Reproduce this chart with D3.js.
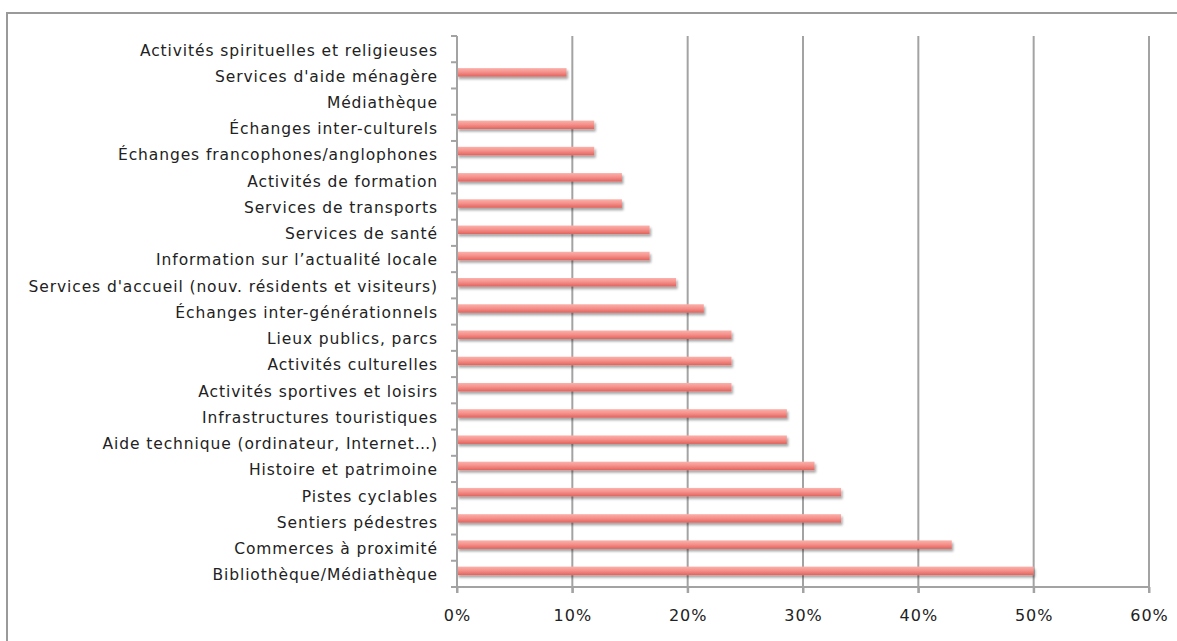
<!DOCTYPE html>
<html>
<head>
<meta charset="utf-8">
<script src="https://cdn.jsdelivr.net/npm/d3@7"></script>
<style>
html,body{margin:0;padding:0;background:#fff;}
svg text{font-family:"DejaVu Sans",Verdana,sans-serif;fill:#222;}
</style>
</head>
<body>
<svg id="chart" width="1177" height="641"></svg>
<script>
const categories = [
  "Activités spirituelles et religieuses",
  "Services d'aide ménagère",
  "Médiathèque",
  "Échanges inter-culturels",
  "Échanges francophones/anglophones",
  "Activités de formation",
  "Services de transports",
  "Services de santé",
  "Information sur l’actualité locale",
  "Services d'accueil (nouv. résidents et visiteurs)",
  "Échanges inter-générationnels",
  "Lieux publics, parcs",
  "Activités culturelles ",
  "Activités sportives et loisirs",
  "Infrastructures touristiques",
  "Aide technique (ordinateur, Internet…)",
  "Histoire et patrimoine",
  "Pistes cyclables ",
  "Sentiers pédestres",
  "Commerces à proximité",
  "Bibliothèque/Médiathèque"
];
const values = [0, 0.095, 0, 0.119, 0.119, 0.143, 0.143, 0.167, 0.167, 0.190, 0.214, 0.238, 0.238, 0.238, 0.286, 0.286, 0.310, 0.333, 0.333, 0.429, 0.500];
const tickValues = [0, 0.1, 0.2, 0.3, 0.4, 0.5, 0.6];

const svg = d3.select("#chart");
const margin = {left: 457, top: 36, right: 28, bottom: 54};
const plotW = 1149 - margin.left;
const plotH = 587 - margin.top;

// outer border
svg.append("rect").attr("x", 7).attr("y", 13).attr("width", 1200).attr("height", 700)
  .attr("fill", "none").attr("stroke", "#9a9a9a").attr("stroke-width", 2);

const defs = svg.append("defs");
const grad = defs.append("linearGradient").attr("id", "barGrad").attr("x1", 0).attr("y1", 0).attr("x2", 0).attr("y2", 1);
grad.append("stop").attr("offset", "0%").attr("stop-color", "#fbb1ab");
grad.append("stop").attr("offset", "45%").attr("stop-color", "#f6928c");
grad.append("stop").attr("offset", "100%").attr("stop-color", "#e0635d");
const filt = defs.append("filter").attr("id", "shadow").attr("x", "-5%").attr("y", "-50%").attr("width", "115%").attr("height", "250%");
filt.append("feDropShadow").attr("dx", 1.5).attr("dy", 2.5).attr("stdDeviation", 1.3).attr("flood-color", "#000").attr("flood-opacity", 0.35);

const g = svg.append("g").attr("transform", `translate(${margin.left},${margin.top})`);

const x = d3.scaleLinear().domain([0, 0.6]).range([0, plotW]);
const y = d3.scaleBand().domain(categories).range([0, plotH]).paddingInner(0).paddingOuter(0);

// gridlines
g.append("g").selectAll("line").data(tickValues.slice(1)).join("line")
  .attr("x1", d => x(d)).attr("x2", d => x(d))
  .attr("y1", 0).attr("y2", plotH + 6)
  .attr("stroke", "#a3a3a3").attr("stroke-width", 2);

// bars
const barH = 8.5;
g.append("g").selectAll("rect").data(values.map((v, i) => ({v, c: categories[i]})).filter(d => d.v > 0)).join("rect")
  .attr("x", 0)
  .attr("y", d => y(d.c) + y.bandwidth() / 2 - barH / 2 - 3)
  .attr("width", d => x(d.v))
  .attr("height", barH)
  .attr("fill", "url(#barGrad)")
  .attr("filter", "url(#shadow)");

// x axis
const xAxis = d3.axisBottom(x).tickValues(tickValues).tickFormat(d3.format(".0%")).tickSize(6).tickPadding(17);
const xa = g.append("g").attr("transform", `translate(0,${plotH})`).call(xAxis);
xa.select(".domain").attr("stroke", "#a3a3a3").attr("stroke-width", 2).attr("d", `M0,0H${plotW}`);
xa.selectAll(".tick line").attr("stroke", "#a3a3a3").attr("stroke-width", 2);
xa.selectAll(".tick text").attr("font-size", 16).attr("fill", "#222")
  .style("font-family", "DejaVu Sans, Verdana, sans-serif").style("letter-spacing", "1px");

// y axis
const yTickPos = d3.range(categories.length + 1).map(i => i * y.step());
const ya = g.append("g");
ya.append("line").attr("x1", 0).attr("x2", 0).attr("y1", 0).attr("y2", plotH + 6)
  .attr("stroke", "#a3a3a3").attr("stroke-width", 2);
ya.selectAll("line.t").data(yTickPos).join("line").attr("class", "t")
  .attr("x1", -6).attr("x2", 0).attr("y1", d => d).attr("y2", d => d)
  .attr("stroke", "#a3a3a3").attr("stroke-width", 2);
ya.selectAll("text").data(categories).join("text")
  .attr("x", -19)
  .attr("y", d => y(d) + y.bandwidth() / 2 + 1)
  .attr("dy", "0.35em")
  .attr("text-anchor", "end")
  .attr("font-size", 15.5)
  .style("letter-spacing", "0.9px")
  .text(d => d);
</script>
</body>
</html>
